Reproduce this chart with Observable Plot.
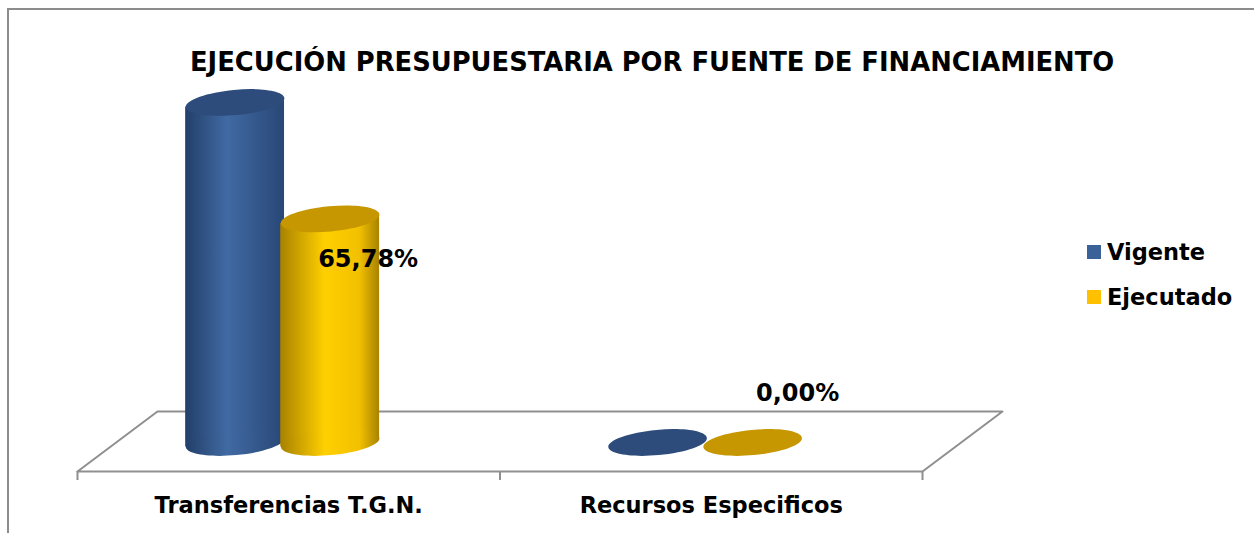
<!DOCTYPE html>
<html>
<head>
<meta charset="utf-8">
<script src="https://cdn.jsdelivr.net/npm/d3@7"></script>
<script src="https://cdn.jsdelivr.net/npm/@observablehq/plot@0.6"></script>
<style>
  html, body { margin: 0; padding: 0; background: #fff; overflow: hidden; }
  #wrap { position: relative; width: 1254px; height: 533px; overflow: hidden; font-family: "DejaVu Sans", Verdana, sans-serif; }
  #border { position: absolute; left: 7px; top: 8px; width: 1400px; height: 700px; border-top: 2px solid #8c8c8c; border-left: 2px solid #8c8c8c; }
  #chart { position: absolute; left: 0; top: 0; }
  #title { position: absolute; left: 190px; top: 45px; white-space: nowrap; font-weight: bold; font-size: 25px; line-height: 34px; color: #000; }
  #legend { position: absolute; left: 1087px; top: 234px; }
  .item { display: flex; align-items: center; height: 36px; margin-bottom: 9px; font-weight: bold; font-size: 22.5px; color: #000; }
  .sw { width: 14px; height: 14px; margin-right: 6px; }
</style>
</head>
<body>
<div id="wrap">
  <div id="border"></div>
  <div id="chart"></div>
  <div id="title"><span id="titleText"></span></div>
  <div id="legend"></div>
</div>
<script>
// ---- Data ----
const titleText = "EJECUCIÓN PRESUPUESTARIA POR FUENTE DE FINANCIAMIENTO";
const categories = ["Transferencias T.G.N.", "Recursos Especificos"];
const seriesNames = ["Vigente", "Ejecutado"];
const vigente = [100, 0];
const ejecutado = [65.78, 0];

// ---- Styles ----
const bodyStops = {
  Vigente: [["0%", "#223f69"], ["42%", "#416aa3"], ["100%", "#284776"]],
  Ejecutado: [["0%", "#a98200"], ["45%", "#ffd000"], ["80%", "#f2c000"], ["100%", "#a88200"]]
};
const capColors = { Vigente: "#2d4c7b", Ejecutado: "#c69700" };
const legendColors = { Vigente: "#3a6298", Ejecutado: "#ffc000" };

// geometry of the 3-D floor (in data units)
const pxPerUnit = 3.4;
const floorFront = -29 / pxPerUnit;
const floorBack = 31 / pxPerUnit;
const floorShift = 0.1893;
const groupCenter = 0.4855;
const dodge = { Vigente: -0.1125, Ejecutado: 0.1125 };
const barHalf = 0.117;
const tiltDeg = 5.3;
const capR = 49.5;
const tilt = capR * Math.sin(tiltDeg * Math.PI / 180) / pxPerUnit; // vertical shear of the cylinder sides

const seriesValues = { Vigente: vigente, Ejecutado: ejecutado };
const rows = [];
seriesNames.forEach(s => categories.forEach((c, i) => rows.push({ series: s, cat: c, i, value: seriesValues[s][i] })));

// tilted ellipse symbol
const ellipse = {
  draw(ctx, size) {
    const r = Math.sqrt(size / Math.PI);
    const rx = r, ry = r * 0.255, th = -tiltDeg * Math.PI / 180, k = 0.5523;
    const c = Math.cos(th), s = Math.sin(th);
    const P = (x, y) => [x * c - y * s, x * s + y * c];
    ctx.moveTo(...P(rx, 0));
    ctx.bezierCurveTo(...P(rx, ry * k), ...P(rx * k, ry), ...P(0, ry));
    ctx.bezierCurveTo(...P(-rx * k, ry), ...P(-rx, ry * k), ...P(-rx, 0));
    ctx.bezierCurveTo(...P(-rx, -ry * k), ...P(-rx * k, -ry), ...P(0, -ry));
    ctx.bezierCurveTo(...P(rx * k, -ry), ...P(rx, -ry * k), ...P(rx, 0));
    ctx.closePath();
  }
};

const cx = d => d.i + groupCenter + dodge[d.series];
const floorPts = [[0, floorFront], [2, floorFront], [2 + floorShift, floorBack], [floorShift, floorBack], [0, floorFront]];

const marks = [
  Plot.line(floorPts, { x: d => d[0], y: d => d[1], stroke: "#8f8f8f", strokeWidth: 2 }),
  Plot.ruleX([0, 1, 2], { y1: floorFront, y2: floorFront - 9 / pxPerUnit, stroke: "#8f8f8f", strokeWidth: 2 })
];
for (const s of seriesNames) {
  const data = rows.filter(d => d.series === s);
  const barRows = data.filter(d => d.value > 0);
  // cylinder side: two edge points per bar, sheared like the tilted caps
  const sides = barRows.flatMap(d => [
    { key: d.cat, x: cx(d) - barHalf, lo: -tilt, hi: d.value - tilt },
    { key: d.cat, x: cx(d) + barHalf, lo: tilt, hi: d.value + tilt }
  ]);
  marks.push(
    Plot.areaY(sides, { x: "x", y1: "lo", y2: "hi", z: "key", fill: `url(#grad${s})` }),
    Plot.dot(barRows, { x: cx, y: 0, r: capR, symbol: ellipse, fill: `url(#grad${s})`, stroke: "none" }),
    Plot.dot(data, { x: cx, y: "value", r: capR, symbol: ellipse, fill: capColors[s], stroke: "none" })
  );
}
const fmt = v => v.toFixed(2).replace(".", ",") + "%";
const ejRows = rows.filter(d => d.series === "Ejecutado");
marks.push(
  Plot.text(ejRows.filter(d => d.value > 0), { x: cx, y: "value", text: d => fmt(d.value), dx: 38, dy: 40, fontSize: 24, fontWeight: "bold", fill: "#000" }),
  Plot.text(ejRows.filter(d => d.value === 0), { x: cx, y: "value", text: d => fmt(d.value), dx: 45, dy: -49, fontSize: 24, fontWeight: "bold", fill: "#000" }),
  Plot.text(categories, { x: (d, i) => i + 0.5, y: floorFront, dy: 34, text: d => d, fontSize: 22.5, fontWeight: "bold", fill: "#000" })
);

const svg = Plot.plot({
  width: 1254,
  height: 533,
  marginLeft: 77,
  marginRight: 332,
  marginTop: 102,
  marginBottom: 91,
  x: { type: "linear", domain: [0, 2], axis: null },
  y: { type: "linear", domain: [0, 100], axis: null },
  style: { background: "transparent", fontFamily: "DejaVu Sans, Verdana, sans-serif", overflow: "visible" },
  marks
});
const sel = d3.select(svg);
const defs = sel.insert("defs", ":first-child");
for (const s of seriesNames) {
  const g = defs.append("linearGradient").attr("id", `grad${s}`).attr("x1", "0").attr("x2", "1").attr("y1", "0").attr("y2", "0");
  for (const [o, c] of bodyStops[s]) g.append("stop").attr("offset", o).attr("stop-color", c);
}
document.getElementById("chart").appendChild(svg);

// title, fitted to its width
const tt = document.getElementById("titleText");
tt.textContent = titleText;
const w = tt.getBoundingClientRect().width;
document.getElementById("title").style.fontSize = (25 * 925 / w) + "px";

// legend
const leg = d3.select("#legend");
for (const s of seriesNames) {
  const it = leg.append("div").attr("class", "item");
  it.append("div").attr("class", "sw").style("background", legendColors[s]);
  it.append("span").text(s);
}
</script>
</body>
</html>
